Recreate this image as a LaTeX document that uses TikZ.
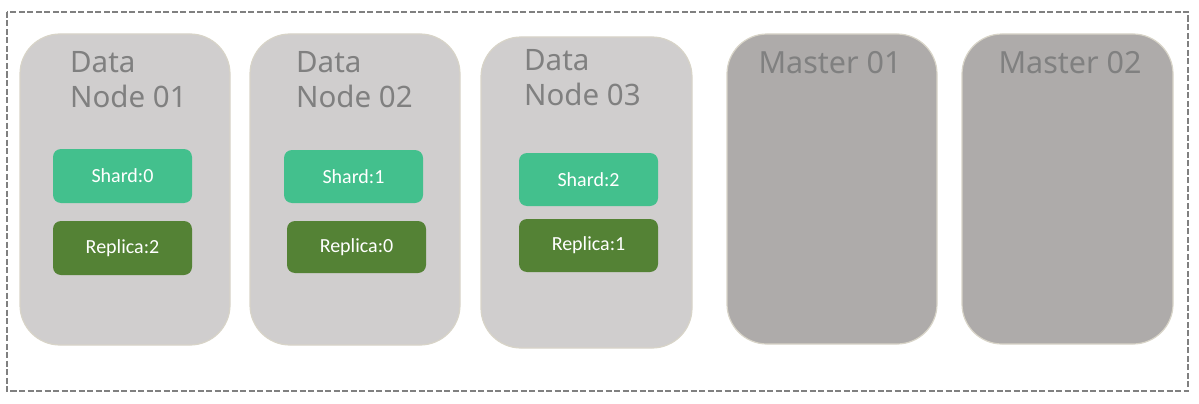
\documentclass[tikz,border=0pt]{standalone}
\usepackage{fontspec}
\setmainfont{Noto Sans}
\newfontfamily\boxfont{Carlito}
\definecolor{nodefill}{HTML}{D0CECE}
\definecolor{masterfill}{HTML}{AEABAA}
\definecolor{nodeedge}{HTML}{D8D4C8}
\definecolor{titlegray}{HTML}{808080}
\definecolor{shardgreen}{HTML}{43C08D}
\definecolor{replicagreen}{HTML}{548235}
\definecolor{framegray}{HTML}{808080}
\tikzset{
  datanode/.style={draw=nodeedge, line width=1.2pt, fill=nodefill, rounded corners=40pt},
  masternode/.style={draw=nodeedge, line width=1.2pt, fill=masterfill, rounded corners=40pt},
  title/.style={text=titlegray, font=\fontsize{29.5}{35}\selectfont, align=left, anchor=north west, inner sep=0pt},
  mtitle/.style={text=titlegray, font=\fontsize{30.5}{34}\selectfont, anchor=north, inner sep=0pt},
  smallbox/.style={draw=none, rounded corners=8pt, text=white, font=\boxfont\fontsize{20}{24}\selectfont, minimum width=139pt, inner sep=0pt},
  shardbox/.style={smallbox, fill=shardgreen},
  replicabox/.style={smallbox, fill=replicagreen},
  frame/.style={draw=framegray, line width=1.3pt, dash pattern=on 6pt off 2.5pt}
}
\begin{document}
\begin{tikzpicture}[x=1pt,y=-1pt]
\useasboundingbox (0,0) rectangle (1199,404);
\draw[frame] (7,12) rectangle (1188,391);
\draw[datanode] (20,34) rectangle (230,345);
\draw[datanode] (250,34) rectangle (460,345);
\draw[datanode] (481,37) rectangle (692,348);
\draw[masternode] (727,34) rectangle (937,344);
\draw[masternode] (962,34) rectangle (1173,344);
\node[title] (t1) at (70,51) {Data\\Node 01};
\node[title] (t2) at (296,51) {Data\\Node 02};
\node[title] (t3) at (524,49) {Data\\Node 03};
\node[mtitle] (m1) at (830,51) {Master 01};
\node[mtitle] (m2) at (1070,51) {Master 02};
\node[shardbox, minimum height=54pt] (s0) at (122.5,176) {Shard:0};
\node[replicabox, minimum height=54pt] (r2) at (122.5,248) {Replica:2};
\node[shardbox, minimum height=53pt] (s1) at (353.5,176.5) {Shard:1};
\node[replicabox, minimum height=52pt] (r0) at (356.5,247) {Replica:0};
\node[shardbox, minimum height=53pt] (s2) at (588.5,179.5) {Shard:2};
\node[replicabox, minimum height=53pt] (r1) at (588.5,245.5) {Replica:1};
\end{tikzpicture}
\end{document}
